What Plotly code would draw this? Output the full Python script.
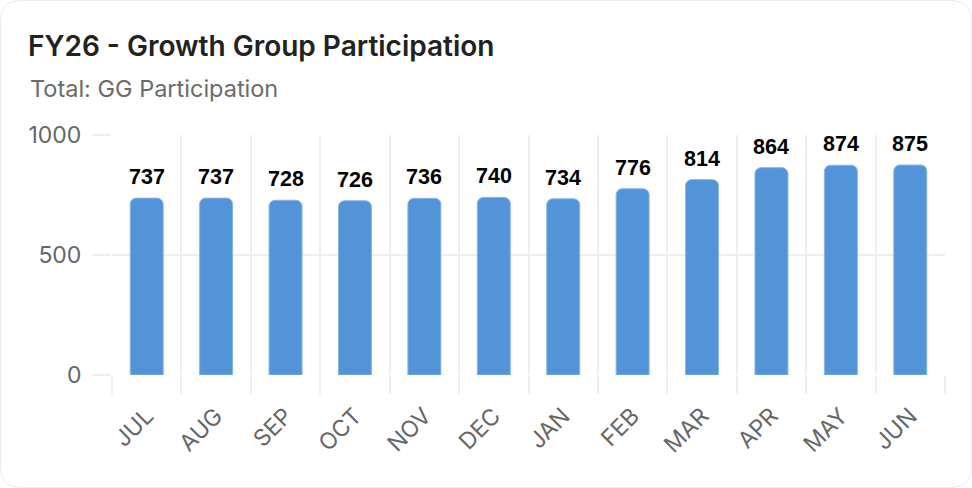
import plotly.graph_objects as go

# data
months = ["JUL", "AUG", "SEP", "OCT", "NOV", "DEC", "JAN", "FEB", "MAR", "APR", "MAY", "JUN"]
participation = [737, 737, 728, 726, 736, 740, 734, 776, 814, 864, 874, 875]
y_ticks = [0, 500, 1000]

W, H = 972, 488
M_L, M_R, M_T, M_B = 112, 27, 135, 113
PW, PH = W - M_L - M_R, H - M_T - M_B

BAR_COLOR = "#5294d7"
GRID = "#efefef"
TICK_FONT = dict(family="Inter, Open Sans, sans-serif", size=23, color="#666666")

fig = go.Figure()

fig.add_trace(go.Bar(
    x=months, y=participation,
    marker=dict(color=BAR_COLOR, line=dict(color="#86b6ea", width=1), cornerradius=6),
    hoverinfo="x+y",
))

# value labels above bars
for m, v in zip(months, participation):
    fig.add_annotation(
        x=m, y=v, text=f"<b>{v}</b>",
        showarrow=False, yanchor="bottom", yshift=7,
        font=dict(family="Liberation Sans, Arial, sans-serif", size=21.5, color="#000000"),
    )

# subtitle
fig.add_annotation(
    xref="paper", yref="paper",
    x=(28 - M_L) / PW, y=1 + (M_T - 88) / PH,
    xanchor="left", yanchor="middle",
    text="Total: GG Participation", showarrow=False,
    font=dict(family="Inter, Open Sans, sans-serif", size=23.5, color="#6b6b6b"),
)

# card outline with rounded corners (paper coords)
def px_x(p):
    return (p - M_L) / PW

def px_y(p):
    return 1 - (p - M_T) / PH

r = 20
x0, x1, y0, y1 = 0.5, W - 0.5, 0.5, H - 0.5
path = (
    f"M {px_x(x0 + r)},{px_y(y0)} L {px_x(x1 - r)},{px_y(y0)} "
    f"Q {px_x(x1)},{px_y(y0)} {px_x(x1)},{px_y(y0 + r)} "
    f"L {px_x(x1)},{px_y(y1 - r)} Q {px_x(x1)},{px_y(y1)} {px_x(x1 - r)},{px_y(y1)} "
    f"L {px_x(x0 + r)},{px_y(y1)} Q {px_x(x0)},{px_y(y1)} {px_x(x0)},{px_y(y1 - r)} "
    f"L {px_x(x0)},{px_y(y0 + r)} Q {px_x(x0)},{px_y(y0)} {px_x(x0 + r)},{px_y(y0)} Z"
)
fig.add_shape(type="path", xref="paper", yref="paper", path=path,
              line=dict(color="#ebebeb", width=1), layer="below")

fig.update_layout(
    width=W, height=H,
    margin=dict(l=M_L, r=M_R, t=M_T, b=M_B),
    paper_bgcolor="#ffffff", plot_bgcolor="#ffffff",
    title=dict(
        text="FY26 - Growth Group Participation",
        xref="container", yref="container",
        x=28 / W, xanchor="left", y=1 - 46 / H, yanchor="middle",
        font=dict(family="Inter, Open Sans, sans-serif", size=28, color="#222222", weight=600),
    ),
    bargap=0.525,
    showlegend=False,
)

fig.update_xaxes(
    type="category", tickson="boundaries",
    showgrid=True, gridcolor=GRID, gridwidth=1.5,
    ticks="outside", ticklen=18, tickcolor=GRID, tickwidth=1.5,
    tickangle=-45, tickfont=TICK_FONT, ticklabelstandoff=22,
    showline=False, zeroline=False,
)
fig.update_yaxes(
    range=[0, 1000], tickvals=y_ticks,
    showgrid=True, gridcolor=GRID, gridwidth=1.5,
    ticks="outside", ticklen=19, tickcolor=GRID, tickwidth=1.5,
    tickfont=TICK_FONT, ticklabelstandoff=6,
    zeroline=False, showline=False,
)

# page body has a default margin; remove it so the card fills the window
fig.write_html("out.html", config={"displayModeBar": False},
               post_script="document.body.style.margin='0px';")
